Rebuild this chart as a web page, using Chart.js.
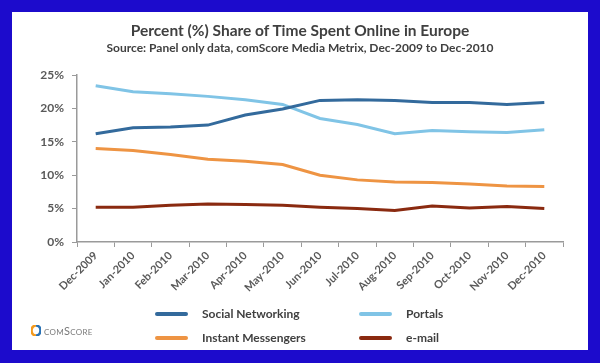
<!DOCTYPE html>
<html><head><meta charset="utf-8">
<script src="https://cdn.jsdelivr.net/npm/chart.js@4.4.1/dist/chart.umd.min.js"></script>
<style>
html,body{margin:0;padding:0;}
body{width:600px;height:363px;background:#1c0bcc;position:relative;overflow:hidden;font-family:Lato,"Open Sans",sans-serif;}
#panel{position:absolute;left:12px;top:12px;width:576px;height:338px;background:#fff;}
#c{position:absolute;left:0;top:0;}
.t{position:absolute;left:12px;width:576px;text-align:center;color:#404040;font-weight:bold;white-space:nowrap;}
#t1{top:21px;font-size:15.5px;line-height:18px;}
#t2{top:41px;font-size:12px;line-height:14px;}
.lg{position:absolute;font-size:12px;font-weight:bold;color:#404040;line-height:16px;white-space:nowrap;}
.sw{position:absolute;width:33px;height:4px;border-radius:2px;}
#logo{position:absolute;left:31px;top:325px;width:10px;height:11px;}
#logotext{position:absolute;left:44px;top:324px;font-size:11px;line-height:14px;color:#7a7a7a;font-variant:small-caps;letter-spacing:0.3px;}
</style></head>
<body>
<div id="panel"></div>
<canvas id="c" width="600" height="363"></canvas>
<div class="t" id="t1">Percent (%) Share of Time Spent Online in Europe</div>
<div class="t" id="t2">Source: Panel only data, comScore Media Metrix, Dec-2009 to Dec-2010</div>
<div id="legend"></div>
<svg id="logo" viewBox="0 0 10 11"><path d="M5 0.5 A4.5 5 0 0 0 5 10.5" fill="none" stroke="#f39a1e" stroke-width="2.6"/><path d="M5 0.5 A4.5 5 0 0 1 5 10.5" fill="none" stroke="#2a72b5" stroke-width="2.6"/></svg>
<div id="logotext">comScore</div>
<script>
const categories = ['Dec-2009','Jan-2010','Feb-2010','Mar-2010','Apr-2010','May-2010','Jun-2010','Jul-2010','Aug-2010','Sep-2010','Oct-2010','Nov-2010','Dec-2010'];
const socialNetworking = [16.2,17.1,17.2,17.5,19.0,19.9,21.2,21.3,21.2,20.9,20.9,20.6,20.9];
const portals = [23.4,22.5,22.2,21.8,21.3,20.6,18.5,17.6,16.2,16.7,16.5,16.4,16.8];
const instantMessengers = [14.0,13.7,13.1,12.4,12.1,11.6,10.0,9.3,9.0,8.9,8.7,8.4,8.3];
const email = [5.2,5.2,5.5,5.7,5.6,5.5,5.2,5.0,4.7,5.4,5.1,5.3,5.0];
const seriesNames = ['Social Networking','Portals','Instant Messengers','e-mail'];
const seriesColors = ['#336a9c','#80c4e6','#ee9443','#8a2a10'];
const yTickValues = [0,5,10,15,20,25];

const seriesData = [socialNetworking, portals, instantMessengers, email];
const datasets = seriesNames.map((n,i)=>({
  label:n, data:seriesData[i], borderColor:seriesColors[i], backgroundColor:seriesColors[i],
  borderWidth:3, pointRadius:0, tension:0, fill:false
}));

new Chart(document.getElementById('c'), {
  type:'line',
  data:{labels:categories, datasets},
  options:{
    responsive:false, animation:false, devicePixelRatio:1,
    layout:{padding:{left:10,right:37,top:75,bottom:51}},
    plugins:{legend:{display:false}, title:{display:false}, tooltip:{enabled:false}},
    scales:{
      x:{
        offset:true,
        grid:{offset:true, drawOnChartArea:false, tickLength:5, color:'#9a9a9a', lineWidth:1},
        border:{color:'#9a9a9a', width:1.5},
        ticks:{minRotation:45, maxRotation:45, color:'#595959', padding:2,
               font:{family:'Lato, "Open Sans", sans-serif', size:11, weight:'bold'}},
        afterFit:s=>{s.height=70;}
      },
      y:{
        min:0, max:25,
        afterBuildTicks:s=>{s.ticks = yTickValues.map(v=>({value:v}));},
        grid:{drawOnChartArea:false, tickLength:5, color:'#9a9a9a'},
        border:{color:'#9a9a9a', width:1.5},
        ticks:{callback:v=>v+'%', color:'#595959', padding:8,
               font:{family:'Lato, "Open Sans", sans-serif', size:12, weight:'bold'}},
        afterFit:s=>{s.width=67;}
      }
    }
  }
});

// legend (two columns)
const lg = document.getElementById('legend');
const colX = [155, 359], textX = [202, 406], rowY = [314, 338];
seriesNames.forEach((n,i)=>{
  const c = i%2, r = Math.floor(i/2);
  const sw = document.createElement('div'); sw.className='sw';
  sw.style.left = colX[c]+'px'; sw.style.top=(rowY[r]-2)+'px'; sw.style.background=seriesColors[i];
  const tx = document.createElement('div'); tx.className='lg';
  tx.style.left = textX[c]+'px'; tx.style.top=(rowY[r]-8)+'px'; tx.textContent=n;
  lg.appendChild(sw); lg.appendChild(tx);
});
</script>
</body></html>
